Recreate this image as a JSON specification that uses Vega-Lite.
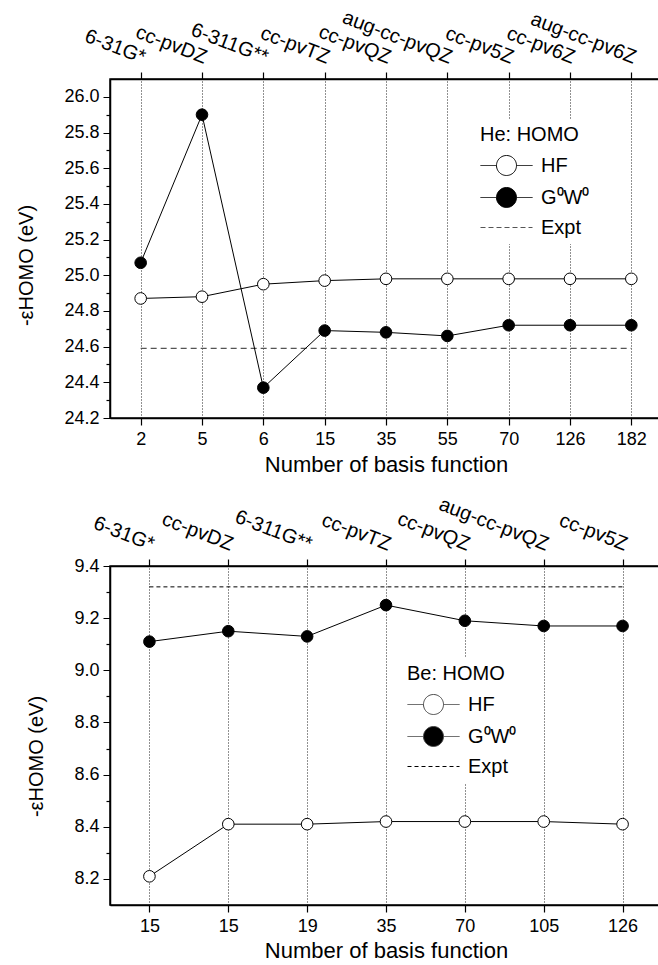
{
  "$schema": "https://vega.github.io/schema/vega-lite/v6.json",
  "padding": {"left": 16, "top": 6, "right": 0, "bottom": 0},
  "background": "white",
  "spacing": 17,
  "config": {
    "font": "Liberation Sans",
    "view": {"stroke": "black", "strokeWidth": 1.5},
    "axis": {
      "labelColor": "black", "titleColor": "black", "domainColor": "black", "tickColor": "black",
      "labelFontSize": 18, "titleFontSize": 22, "titleFontWeight": "normal",
      "domainWidth": 1.5, "tickWidth": 1.2
    },
    "legend": {
      "labelColor": "black", "titleColor": "black", "labelFontSize": 20, "titleFontSize": 20,
      "titleFontWeight": "normal"
    }
  },
  "datasets": {
    "he": [
      {"key": "0|2|6-31G*", "series": "HF", "value": 24.87},
      {"key": "1|5|cc-pvDZ", "series": "HF", "value": 24.88},
      {"key": "2|6|6-311G**", "series": "HF", "value": 24.95},
      {"key": "3|15|cc-pvTZ", "series": "HF", "value": 24.97},
      {"key": "4|35|cc-pvQZ", "series": "HF", "value": 24.98},
      {"key": "5|55|aug-cc-pvQZ", "series": "HF", "value": 24.98},
      {"key": "6|70|cc-pv5Z", "series": "HF", "value": 24.98},
      {"key": "7|126|cc-pv6Z", "series": "HF", "value": 24.98},
      {"key": "8|182|aug-cc-pv6Z", "series": "HF", "value": 24.98},
      {"key": "0|2|6-31G*", "series": "G0W0", "value": 25.07},
      {"key": "1|5|cc-pvDZ", "series": "G0W0", "value": 25.90},
      {"key": "2|6|6-311G**", "series": "G0W0", "value": 24.37},
      {"key": "3|15|cc-pvTZ", "series": "G0W0", "value": 24.69},
      {"key": "4|35|cc-pvQZ", "series": "G0W0", "value": 24.68},
      {"key": "5|55|aug-cc-pvQZ", "series": "G0W0", "value": 24.66},
      {"key": "6|70|cc-pv5Z", "series": "G0W0", "value": 24.72},
      {"key": "7|126|cc-pv6Z", "series": "G0W0", "value": 24.72},
      {"key": "8|182|aug-cc-pv6Z", "series": "G0W0", "value": 24.72},
      {"key": "0|2|6-31G*", "series": "Expt", "value": 24.59},
      {"key": "1|5|cc-pvDZ", "series": "Expt", "value": 24.59},
      {"key": "2|6|6-311G**", "series": "Expt", "value": 24.59},
      {"key": "3|15|cc-pvTZ", "series": "Expt", "value": 24.59},
      {"key": "4|35|cc-pvQZ", "series": "Expt", "value": 24.59},
      {"key": "5|55|aug-cc-pvQZ", "series": "Expt", "value": 24.59},
      {"key": "6|70|cc-pv5Z", "series": "Expt", "value": 24.59},
      {"key": "7|126|cc-pv6Z", "series": "Expt", "value": 24.59},
      {"key": "8|182|aug-cc-pv6Z", "series": "Expt", "value": 24.59}
    ],
    "be": [
      {"key": "0|15|6-31G*", "series": "HF", "value": 8.21},
      {"key": "1|15|cc-pvDZ", "series": "HF", "value": 8.41},
      {"key": "2|19|6-311G**", "series": "HF", "value": 8.41},
      {"key": "3|35|cc-pvTZ", "series": "HF", "value": 8.42},
      {"key": "4|70|cc-pvQZ", "series": "HF", "value": 8.42},
      {"key": "5|105|aug-cc-pvQZ", "series": "HF", "value": 8.42},
      {"key": "6|126|cc-pv5Z", "series": "HF", "value": 8.41},
      {"key": "0|15|6-31G*", "series": "G0W0", "value": 9.11},
      {"key": "1|15|cc-pvDZ", "series": "G0W0", "value": 9.15},
      {"key": "2|19|6-311G**", "series": "G0W0", "value": 9.13},
      {"key": "3|35|cc-pvTZ", "series": "G0W0", "value": 9.25},
      {"key": "4|70|cc-pvQZ", "series": "G0W0", "value": 9.19},
      {"key": "5|105|aug-cc-pvQZ", "series": "G0W0", "value": 9.17},
      {"key": "6|126|cc-pv5Z", "series": "G0W0", "value": 9.17},
      {"key": "0|15|6-31G*", "series": "Expt", "value": 9.32},
      {"key": "1|15|cc-pvDZ", "series": "Expt", "value": 9.32},
      {"key": "2|19|6-311G**", "series": "Expt", "value": 9.32},
      {"key": "3|35|cc-pvTZ", "series": "Expt", "value": 9.32},
      {"key": "4|70|cc-pvQZ", "series": "Expt", "value": 9.32},
      {"key": "5|105|aug-cc-pvQZ", "series": "Expt", "value": 9.32},
      {"key": "6|126|cc-pv5Z", "series": "Expt", "value": 9.32}
    ]
  },
  "resolve": {
    "scale": {"shape": "independent", "fill": "independent", "strokeDash": "independent", "stroke": "independent"},
    "legend": {"shape": "independent", "fill": "independent", "strokeDash": "independent", "stroke": "independent"}
  },
  "vconcat": [
    {
      "width": 552,
      "height": 339,
      "data": {"name": "he"},
      "resolve": {"axis": {"x": "independent"}},
      "encoding": {
        "y": {
          "field": "value", "type": "quantitative",
          "scale": {"domain": [24.2, 26.1], "nice": false, "zero": false},
          "axis": {
            "title": "-εHOMO (eV)", "titlePadding": 27, "titleFontSize": 20, "titleY": 186, "grid": false,
            "values": [24.2, 24.3, 24.4, 24.5, 24.6, 24.7, 24.8, 24.9, 25.0, 25.1, 25.2, 25.3, 25.4, 25.5, 25.6, 25.7, 25.8, 25.9, 26.0],
            "labelExpr": "round(datum.value * 10) % 2 == 0 ? format(datum.value, '.1f') : ''",
            "tickSize": 7,
            "tickDash": {"condition": {"test": "round(datum.value * 10) % 2 == 0", "value": [1, 0]}, "value": [4, 20]},
            "labelPadding": 4
          }
        }
      },
      "layer": [
        {
          "transform": [{"filter": "datum.series == 'Expt'"}],
          "mark": {"type": "line", "color": "#555555", "strokeDash": [6, 4], "strokeWidth": 1.2},
          "encoding": {
            "x": {
              "field": "key", "type": "ordinal",
              "scale": {"type": "point", "padding": 0.5},
              "axis": {
                "orient": "top", "title": null,
                "labelExpr": "split(datum.value, '|')[2]", "labelFontSize": 20,
                "labelAngle": 21, "labelAlign": "right", "labelBaseline": "bottom",
                "labelPadding": 5, "tickSize": 7, "labelOverlap": false, "labelBound": false, "labelFlush": false,
                "grid": true, "gridDash": [1, 2], "gridColor": "#222222", "gridWidth": 1
              }
            }
          }
        },
        {
          "transform": [{"filter": "datum.series != 'Expt'"}],
          "mark": {"type": "line", "color": "black", "strokeWidth": 1},
          "encoding": {
            "x": {
              "field": "key", "type": "ordinal",
              "scale": {"type": "point", "padding": 0.5},
              "axis": {
                "orient": "bottom", "title": "Number of basis function",
                "labelExpr": "split(datum.value, '|')[1]", "labelAngle": 0,
                "tickSize": 7, "labelPadding": 5, "titlePadding": 6, "grid": false
              }
            },
            "detail": {"field": "series"}
          }
        },
        {
          "transform": [{"filter": "datum.series != 'Expt'"}],
          "mark": {"type": "point", "shape": "circle", "size": 135, "filled": true, "stroke": "black", "strokeWidth": 1, "opacity": 1},
          "encoding": {
            "x": {"field": "key", "type": "ordinal", "axis": null},
            "fill": {"condition": {"test": "datum.series == 'HF'", "value": "white"}, "value": "black"}
          }
        },
        {
          "transform": [{"filter": "split(datum.key, '|')[0] == '0'"}],
          "mark": {"type": "point", "opacity": 0, "filled": true},
          "encoding": {
            "x": {"field": "key", "type": "ordinal", "axis": null},
            "shape": {
              "field": "series", "type": "nominal",
              "scale": {"domain": ["HF", "G0W0", "Expt"], "range": ["M-1,0H0.6M2.6,0H4.2M0.6,0A1,1,0,1,1,2.6,0A1,1,0,1,1,0.6,0Z", "M-1,0H0.6M2.6,0H4.2M0.6,0A1,1,0,1,1,2.6,0A1,1,0,1,1,0.6,0Z", "M-1,0H4.2"]},
              "legend": {"title": "He: HOMO", "orient": "none", "legendX": 364, "legendY": 40, "symbolSize": 400, "symbolStrokeWidth": 1, "symbolOpacity": 1, "labelOffset": 40, "padding": 6, "fillColor": "white", "rowPadding": 7, "titlePadding": 10, "labelExpr": "datum.label == 'G0W0' ? 'G⁰W⁰' : datum.label"}
            },
            "fill": {
              "field": "series", "type": "nominal",
              "scale": {"domain": ["HF", "G0W0", "Expt"], "range": ["white", "black", "white"]},
              "legend": {"title": "He: HOMO", "orient": "none", "legendX": 364, "legendY": 40, "symbolSize": 400, "symbolStrokeWidth": 1, "symbolOpacity": 1, "labelOffset": 40, "padding": 6, "fillColor": "white", "rowPadding": 7, "titlePadding": 10, "labelExpr": "datum.label == 'G0W0' ? 'G⁰W⁰' : datum.label"}
            },
            "stroke": {
              "field": "series", "type": "nominal",
              "scale": {"domain": ["HF", "G0W0", "Expt"], "range": ["black", "black", "#555555"]},
              "legend": {"title": "He: HOMO", "orient": "none", "legendX": 364, "legendY": 40, "symbolSize": 400, "symbolStrokeWidth": 1, "symbolOpacity": 1, "labelOffset": 40, "padding": 6, "fillColor": "white", "rowPadding": 7, "titlePadding": 10, "labelExpr": "datum.label == 'G0W0' ? 'G⁰W⁰' : datum.label"}
            },
            "strokeDash": {
              "field": "series", "type": "nominal",
              "scale": {"domain": ["HF", "G0W0", "Expt"], "range": [[1, 0], [1, 0], [5, 3]]},
              "legend": {"title": "He: HOMO", "orient": "none", "legendX": 364, "legendY": 40, "symbolSize": 400, "symbolStrokeWidth": 1, "symbolOpacity": 1, "labelOffset": 40, "padding": 6, "fillColor": "white", "rowPadding": 7, "titlePadding": 10, "labelExpr": "datum.label == 'G0W0' ? 'G⁰W⁰' : datum.label"}
            }
          }
        }
      ]
    },
    {
      "width": 552,
      "height": 339,
      "data": {"name": "be"},
      "resolve": {"axis": {"x": "independent"}},
      "encoding": {
        "y": {
          "field": "value", "type": "quantitative",
          "scale": {"domain": [8.1, 9.4], "nice": false, "zero": false},
          "axis": {
            "title": "-εHOMO (eV)", "titlePadding": 27, "titleFontSize": 20, "titleY": 190, "grid": false,
            "values": [8.2, 8.3, 8.4, 8.5, 8.6, 8.7, 8.8, 8.9, 9.0, 9.1, 9.2, 9.3, 9.4],
            "labelExpr": "round(datum.value * 10) % 2 == 0 ? format(datum.value, '.1f') : ''",
            "tickSize": 7,
            "tickDash": {"condition": {"test": "round(datum.value * 10) % 2 == 0", "value": [1, 0]}, "value": [4, 20]},
            "labelPadding": 4
          }
        }
      },
      "layer": [
        {
          "transform": [{"filter": "datum.series == 'Expt'"}],
          "mark": {"type": "line", "color": "black", "strokeDash": [4, 3], "strokeWidth": 1},
          "encoding": {
            "x": {
              "field": "key", "type": "ordinal",
              "scale": {"type": "point", "padding": 0.5},
              "axis": {
                "orient": "top", "title": null,
                "labelExpr": "split(datum.value, '|')[2]", "labelFontSize": 20,
                "labelAngle": 21, "labelAlign": "right", "labelBaseline": "bottom",
                "labelPadding": 5, "tickSize": 7, "labelOverlap": false, "labelBound": false, "labelFlush": false,
                "grid": true, "gridDash": [1, 2], "gridColor": "#222222", "gridWidth": 1
              }
            }
          }
        },
        {
          "transform": [{"filter": "datum.series != 'Expt'"}],
          "mark": {"type": "line", "color": "black", "strokeWidth": 1},
          "encoding": {
            "x": {
              "field": "key", "type": "ordinal",
              "scale": {"type": "point", "padding": 0.5},
              "axis": {
                "orient": "bottom", "title": "Number of basis function",
                "labelExpr": "split(datum.value, '|')[1]", "labelAngle": 0,
                "tickSize": 7, "labelPadding": 5, "titlePadding": 5, "grid": false
              }
            },
            "detail": {"field": "series"}
          }
        },
        {
          "transform": [{"filter": "datum.series != 'Expt'"}],
          "mark": {"type": "point", "shape": "circle", "size": 135, "filled": true, "stroke": "black", "strokeWidth": 1, "opacity": 1},
          "encoding": {
            "x": {"field": "key", "type": "ordinal", "axis": null},
            "fill": {"condition": {"test": "datum.series == 'HF'", "value": "white"}, "value": "black"}
          }
        },
        {
          "transform": [{"filter": "split(datum.key, '|')[0] == '0'"}],
          "mark": {"type": "point", "opacity": 0, "filled": true},
          "encoding": {
            "x": {"field": "key", "type": "ordinal", "axis": null},
            "shape": {
              "field": "series", "type": "nominal",
              "scale": {"domain": ["HF", "G0W0", "Expt"], "range": ["M-1,0H0.6M2.6,0H4.2M0.6,0A1,1,0,1,1,2.6,0A1,1,0,1,1,0.6,0Z", "M-1,0H0.6M2.6,0H4.2M0.6,0A1,1,0,1,1,2.6,0A1,1,0,1,1,0.6,0Z", "M-1,0H4.2"]},
              "legend": {"title": "Be: HOMO", "orient": "none", "legendX": 291, "legendY": 92, "symbolSize": 400, "symbolStrokeWidth": 1, "symbolOpacity": 1, "labelOffset": 40, "padding": 6, "fillColor": "white", "rowPadding": 7, "titlePadding": 10, "labelExpr": "datum.label == 'G0W0' ? 'G⁰W⁰' : datum.label"}
            },
            "fill": {
              "field": "series", "type": "nominal",
              "scale": {"domain": ["HF", "G0W0", "Expt"], "range": ["white", "black", "white"]},
              "legend": {"title": "Be: HOMO", "orient": "none", "legendX": 291, "legendY": 92, "symbolSize": 400, "symbolStrokeWidth": 1, "symbolOpacity": 1, "labelOffset": 40, "padding": 6, "fillColor": "white", "rowPadding": 7, "titlePadding": 10, "labelExpr": "datum.label == 'G0W0' ? 'G⁰W⁰' : datum.label"}
            },
            "stroke": {
              "field": "series", "type": "nominal",
              "scale": {"domain": ["HF", "G0W0", "Expt"], "range": ["#444444", "#444444", "black"]},
              "legend": {"title": "Be: HOMO", "orient": "none", "legendX": 291, "legendY": 92, "symbolSize": 400, "symbolStrokeWidth": 1, "symbolOpacity": 1, "labelOffset": 40, "padding": 6, "fillColor": "white", "rowPadding": 7, "titlePadding": 10, "labelExpr": "datum.label == 'G0W0' ? 'G⁰W⁰' : datum.label"}
            },
            "strokeDash": {
              "field": "series", "type": "nominal",
              "scale": {"domain": ["HF", "G0W0", "Expt"], "range": [[1, 0], [1, 0], [4, 3]]},
              "legend": {"title": "Be: HOMO", "orient": "none", "legendX": 291, "legendY": 92, "symbolSize": 400, "symbolStrokeWidth": 1, "symbolOpacity": 1, "labelOffset": 40, "padding": 6, "fillColor": "white", "rowPadding": 7, "titlePadding": 10, "labelExpr": "datum.label == 'G0W0' ? 'G⁰W⁰' : datum.label"}
            }
          }
        }
      ]
    }
  ]
}
